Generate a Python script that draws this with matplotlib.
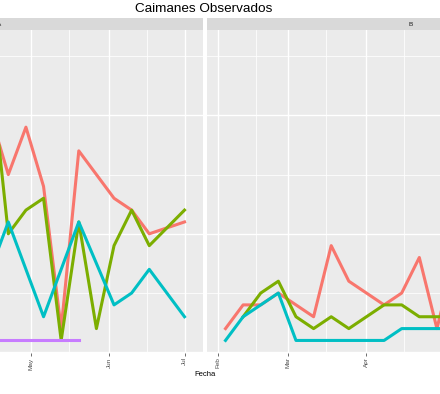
import numpy as np
import pandas as pd
import matplotlib
matplotlib.use("Agg")
import matplotlib.pyplot as plt
import matplotlib.dates as mdates

plt.rcParams['font.family'] = ['Liberation Sans', 'DejaVu Sans']

# datos (conteos semanales)
fechas_a = pd.to_datetime(["2017-04-15", "2017-04-22", "2017-04-29", "2017-05-06", "2017-05-13",
                           "2017-05-20", "2017-05-27", "2017-06-03", "2017-06-10", "2017-06-17",
                           "2017-07-01"])
rojo_a = [20, 15, 19, 14, 2, 17, 15, 13, 12, 10, 11]
verde_a = [24, 10, 12, 13, 1, 11, 2, 9, 12, 9, 12]
cian_a = [7, 11, 7, 3, 7, 11, 7.5, 4, 5, 7, 3]
fechas_morado_a = pd.to_datetime(["2017-04-15", "2017-04-22", "2017-04-29", "2017-05-06",
                                  "2017-05-13", "2017-05-20"])
morado_a = [1, 1, 1, 1, 1, 1]

fechas_b = pd.to_datetime(["2017-02-04", "2017-02-11", "2017-02-18", "2017-02-25", "2017-03-04",
                           "2017-03-11", "2017-03-18", "2017-03-25", "2017-04-01", "2017-04-08",
                           "2017-04-15", "2017-04-22", "2017-04-29", "2017-05-06"])
rojo_b = [2, 4, 4, 5, 4, 3, 9, 6, 5, 4, 5, 8, 2, 8]
verde_b = [np.nan, 3, 5, 6, 3, 2, 3, 2, 3, 4, 4, 3, 3, 3]
cian_b = [1, 3, 4, 5, 1, 1, 1, 1, 1, 1, 2, 2, 2, 2]

paneles = ["A", "B"]
# meses cuya etiqueta cae dentro del recorte en cada panel
meses_a = pd.to_datetime(["2017-05-01", "2017-06-01", "2017-07-01"])
meses_b = pd.to_datetime(["2017-02-01", "2017-03-01", "2017-04-01"])
colores = ["#F8766D", "#7CAE00", "#00BFC4", "#C77CFF"]

W, H = 440, 394
fig = plt.figure(figsize=(W / 100, H / 100), dpi=100)

def caja(x0, y0, x1, y1):
    # pixeles (arriba-izquierda) -> fraccion de figura
    return [x0 / W, 1 - y1 / H, (x1 - x0) / W, (y1 - y0) / H]

xmin = pd.Timestamp("2017-02-04") - pd.Timedelta(days=7.35)
xmax = pd.Timestamp("2017-07-01") + pd.Timedelta(days=7.35)

ax_a = fig.add_axes(caja(-204, 30, 203, 353))
ax_b = fig.add_axes(caja(207, 30, 614, 353))

for ax, meses in ((ax_a, meses_a), (ax_b, meses_b)):
    ax.set_facecolor("#EBEBEB")
    for s in ax.spines.values():
        s.set_visible(False)
    ax.set_xlim(xmin, xmax)
    ax.set_ylim(-0.06, 27.2)
    ax.set_xticks(meses)
    ax.xaxis.set_minor_locator(mdates.MonthLocator(bymonthday=16))
    ax.xaxis.set_major_formatter(mdates.DateFormatter("%b"))
    ax.set_yticks([0, 10, 20])
    ax.set_yticks([5, 15, 25], minor=True)
    ax.grid(which="major", color="white", lw=1.0)
    ax.grid(which="minor", color="white", lw=0.55)
    ax.set_axisbelow(True)
    ax.tick_params(axis="x", which="major", direction="out", length=2.2, width=0.5,
                   color="#333333", labelsize=4.6, labelcolor="#4D4D4D", pad=1,
                   labelrotation=90)
    ax.tick_params(axis="x", which="minor", length=0)
    ax.tick_params(axis="y", which="both", length=0, labelleft=False)

lw = 2.2
ax_a.plot(fechas_a, rojo_a, color=colores[0], lw=lw, solid_joinstyle="round")
ax_a.plot(fechas_a, verde_a, color=colores[1], lw=lw, solid_joinstyle="round")
ax_a.plot(fechas_a, cian_a, color=colores[2], lw=lw, solid_joinstyle="round")
ax_a.plot(fechas_morado_a, morado_a, color=colores[3], lw=lw, solid_joinstyle="round")

ax_b.plot(fechas_b, rojo_b, color=colores[0], lw=lw, solid_joinstyle="round")
ax_b.plot(fechas_b, verde_b, color=colores[1], lw=lw, solid_joinstyle="round")
ax_b.plot(fechas_b, cian_b, color=colores[2], lw=lw, solid_joinstyle="round")

# tiras de facetas
for (x0, x1), nombre in zip([(-204, 203), (207, 614)], paneles):
    st = fig.add_axes(caja(x0, 18, x1, 30))
    st.set_facecolor("#D9D9D9")
    st.set_xticks([])
    st.set_yticks([])
    for s in st.spines.values():
        s.set_visible(False)
    st.text(0.5, 0.5, nombre, ha="center", va="center", fontsize=4.6,
            color="#1A1A1A", transform=st.transAxes)

fig.text(204 / W, 1 - 9.5 / H, "Caimanes Observados", ha="center", va="center",
         fontsize=9.7, color="black")
fig.text(205 / W, 1 - 374 / H, "Fecha", ha="center", va="center",
         fontsize=5.5, color="black")

fig.savefig("out.png", dpi=100)
